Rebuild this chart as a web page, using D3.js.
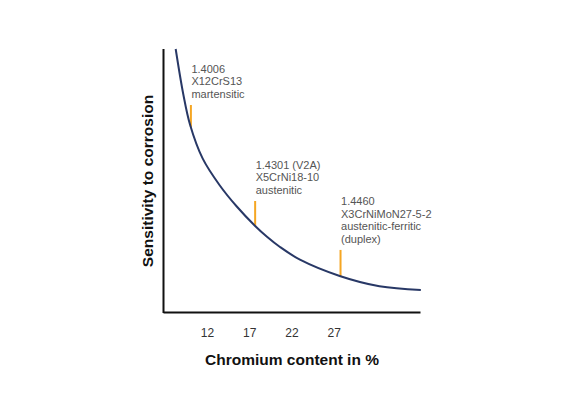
<!DOCTYPE html>
<html>
<head>
<meta charset="utf-8">
<script src="https://cdn.jsdelivr.net/npm/d3@7"></script>
<style>
  html, body { margin: 0; padding: 0; background: #fff; }
  svg { display: block; }
</style>
</head>
<body>
<svg id="chart" width="580" height="399"></svg>
<script>
// Curve data (chromium % vs. relative sensitivity to corrosion)
const chromium    = [8.3, 9.2, 10, 11.5, 13.5, 15.5, 17.7, 19.1, 20.6, 23, 27.7, 32.4, 37.3];
const sensitivity = [100, 82.8, 71.2, 58.3, 48.2, 40.2, 32.7, 28.6, 24.8, 19.9, 13.7, 9.8, 8.4];

// Steel grade markers
const markerX      = [10.1, 17.7, 27.8];
const markerTop    = [78.7, 42.2, 23.6];
const markerBottom = [70.3, 32.7, 13.6];
const markerLabels = [
  ["1.4006", "X12CrS13", "martensitic"],
  ["1.4301 (V2A)", "X5CrNi18-10", "austenitic"],
  ["1.4460", "X3CrNiMoN27-5-2", "austenitic-ferritic", "(duplex)"]
];

const xTicks = [12, 17, 22, 27];
const xTitle = "Chromium content in %";
const yTitle = "Sensitivity to corrosion";

const svg = d3.select("#chart");
const x = d3.scaleLinear().domain([6.8, 37.2]).range([163, 420]);
const y = d3.scaleLinear().domain([0, 100]).range([312, 49]);

const font = "'Liberation Sans', Arial, Helvetica, sans-serif";

// X axis
const xAxis = svg.append("g")
  .attr("transform", `translate(0,${y(0)})`)
  .call(d3.axisBottom(x).tickValues(xTicks).tickSize(0).tickSizeOuter(0).tickPadding(16));
xAxis.select(".domain").attr("stroke", "#111").attr("stroke-width", 2);
xAxis.selectAll("text")
  .attr("font-family", font).attr("font-size", 12).attr("fill", "#333");

// Y axis
const yAxis = svg.append("g")
  .attr("transform", `translate(${x.range()[0]},0)`)
  .call(d3.axisLeft(y).tickValues([]).tickSize(0).tickSizeOuter(0));
yAxis.select(".domain").attr("stroke", "#111").attr("stroke-width", 2)
  .attr("d", `M0.5,${y(0) + 1}V${y(100)}`);

// Axis titles
svg.append("text")
  .attr("x", 292).attr("y", 365)
  .attr("text-anchor", "middle")
  .attr("font-family", font).attr("font-size", 15.5).attr("font-weight", "bold")
  .attr("fill", "#111")
  .text(xTitle);

svg.append("text")
  .attr("transform", "translate(153,181) rotate(-90)")
  .attr("text-anchor", "middle")
  .attr("font-family", font).attr("font-size", 15.5).attr("font-weight", "bold")
  .attr("fill", "#111")
  .text(yTitle);

// Markers
markerX.forEach((mx, i) => {
  svg.append("line")
    .attr("x1", x(mx)).attr("x2", x(mx))
    .attr("y1", y(markerTop[i])).attr("y2", y(markerBottom[i]))
    .attr("stroke", "#f5a623").attr("stroke-width", 2);
  const lines = markerLabels[i];
  const lh = 12.7;
  const lastBase = y(markerTop[i]) - 7;
  const t = svg.append("text")
    .attr("font-family", font).attr("font-size", 11).attr("fill", "#555");
  lines.forEach((s, j) => {
    t.append("tspan")
      .attr("x", x(mx) + 0.5)
      .attr("y", lastBase - (lines.length - 1 - j) * lh)
      .text(s);
  });
});

// Curve
const pts = chromium.map((c, i) => [c, sensitivity[i]]);
svg.append("path")
  .datum(pts)
  .attr("fill", "none")
  .attr("stroke", "#283866")
  .attr("stroke-width", 2)
  .attr("d", d3.line().x(d => x(d[0])).y(d => y(d[1])).curve(d3.curveCatmullRom.alpha(0.5)));
</script>
</body>
</html>
